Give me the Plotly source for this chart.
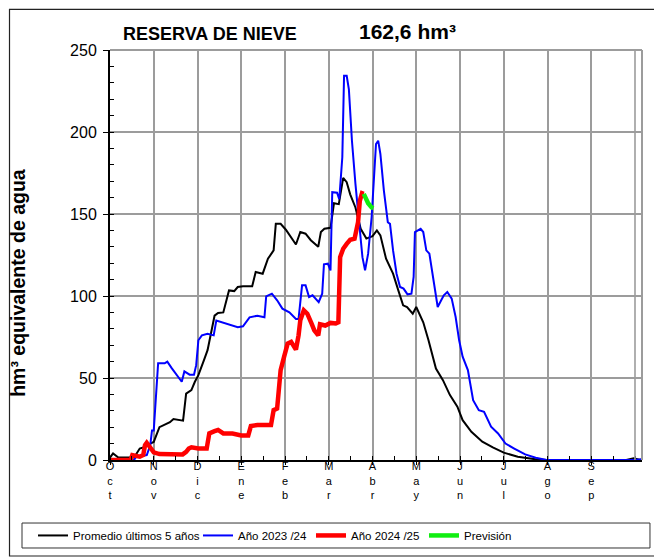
import plotly.graph_objects as go

# x positions in months since 1 October (0 = Oct, 1 = Nov, ...)
meses = ["O<br>c<br>t", "N<br>o<br>v", "D<br>i<br>c", "E<br>n<br>e", "F<br>e<br>b",
         "M<br>a<br>r", "A<br>b<br>r", "M<br>a<br>y", "J<br>u<br>n", "J<br>u<br>l",
         "A<br>g<br>o", "S<br>e<br>p"]

prom_x = [0.00, 0.07, 0.19, 0.55, 0.68, 0.80, 0.92, 1.00, 1.13, 1.21, 1.37, 1.45, 1.57, 1.67,
          1.74, 1.86, 1.94, 2.02, 2.15, 2.23, 2.39, 2.47, 2.59, 2.72, 2.84, 2.92, 3.04, 3.25,
          3.33, 3.49, 3.61, 3.74, 3.79, 3.90, 4.02, 4.14, 4.25, 4.35, 4.47, 4.59, 4.76, 4.82,
          4.90, 5.04, 5.12, 5.23, 5.33, 5.41, 5.49, 5.61, 5.73, 5.86, 5.94, 6.00, 6.10, 6.18,
          6.31, 6.47, 6.59, 6.70, 6.79, 6.92, 7.00, 7.16, 7.28, 7.45, 7.61, 7.77, 7.94, 8.06,
          8.26, 8.51, 8.75, 9.00, 9.32, 9.73, 9.98, 11.80, 11.97, 12.10, 12.18]
prom_y = [1.5, 4, 1.5, 1.5, 7, 8, 10, 11, 20, 21, 23, 25, 24.7, 24,
          40.5, 42.6, 47.7, 51.7, 61, 67, 88, 89.7, 90, 103.4, 103, 105.5, 106, 106,
          114.6, 113.6, 122.7, 127.8, 144, 144, 140.4, 136, 131.4, 139, 138, 134, 130, 139,
          141, 141.6, 156.6, 156, 172, 169.4, 162, 154, 141, 135, 136, 136.5, 140, 137,
          122.7, 113.6, 103.4, 94.3, 93.3, 89.2, 93.3, 84, 73, 55.8, 48.7, 39.6, 32.5, 24.3,
          17.2, 11.2, 7.7, 4.5, 2, 0.4, 0, 0, 1, 0.2, 0.2]

a2324_x = [0.00, 0.55, 0.60, 0.84, 0.92, 0.96, 1.00, 1.06, 1.10, 1.25, 1.31, 1.41, 1.53, 1.64,
           1.70, 1.82, 1.92, 1.97, 2.02, 2.10, 2.23, 2.37, 2.43, 2.55, 2.72, 2.92, 3.04, 3.19,
           3.37, 3.53, 3.57, 3.70, 3.82, 3.94, 4.10, 4.25, 4.31, 4.39, 4.47, 4.55, 4.63, 4.77,
           4.85, 4.89, 4.98, 5.04, 5.08, 5.19, 5.24, 5.31, 5.35, 5.41, 5.46, 5.53, 5.61, 5.69,
           5.77, 5.83, 5.90, 5.98, 6.02, 6.08, 6.13, 6.18, 6.26, 6.35, 6.40, 6.47, 6.55, 6.63,
           6.71, 6.80, 6.89, 6.94, 6.97, 7.04, 7.10, 7.16, 7.23, 7.30, 7.41, 7.49, 7.57, 7.63,
           7.71, 7.81, 7.90, 7.98, 8.06, 8.18, 8.30, 8.43, 8.55, 8.71, 8.87, 9.04, 9.24, 9.49,
           9.73, 9.98, 11.97, 12.18]
a2324_y = [0, 0, 2, 3, 9, 18, 18, 40.6, 59, 59, 60, 56, 51.7, 47.7,
           54, 52, 52, 57.8, 73, 76, 77, 76, 85, 84, 82.8, 81, 81.5, 87,
           88, 87, 99.8, 101.4, 97.4, 92.3, 90, 86, 86, 106.5, 106.5, 99.4, 100.4, 96.3,
           101.4, 119.3, 119.7, 115.6, 163.3, 163, 159, 184.6, 234.3, 234.3, 226, 194.7, 168.4, 148,
           123.7, 115.6, 125.8, 148, 168.4, 192.7, 194.7, 186.6, 164.3, 145, 144, 127.8, 113.6, 105.5,
           104.5, 101, 101.4, 111.6, 139, 140, 141, 139, 127.8, 125.8, 106.5, 93.3, 97.4, 100.4,
           102.4, 98.4, 87.2, 73, 63, 54.8, 36.5, 30.4, 29.4, 20.3, 16.2, 10, 7, 3.4,
           1.4, 0, 0, 0.5]

a2425_x = [0.00, 0.47, 0.51, 0.60, 0.68, 0.76, 0.80, 0.84, 0.92, 1.00, 1.13, 1.41, 1.66, 1.74,
           1.80, 1.86, 2.02, 2.21, 2.27, 2.39, 2.47, 2.59, 2.80, 3.00, 3.16, 3.22, 3.37, 3.68,
           3.74, 3.82, 3.86, 3.90, 3.98, 4.06, 4.14, 4.25, 4.31, 4.35, 4.43, 4.51, 4.61, 4.67,
           4.76, 4.80, 4.92, 5.04, 5.16, 5.22, 5.26, 5.33, 5.41, 5.49, 5.59, 5.64, 5.67, 5.71,
           5.76, 5.80]
a2425_y = [0, 0, 3, 2.5, 2, 3, 9, 10.5, 7, 4.7, 3.6, 3.4, 3.4, 5,
           7, 7.7, 7, 7, 16.2, 17.6, 18.3, 16.2, 16.2, 15, 15, 20.7, 21.3, 21.3,
           30.4, 31.4, 40.6, 54.8, 63, 71, 72, 67.3, 76, 85.2, 91.3, 89.2, 83, 79,
           76, 82.8, 82, 83.6, 83.2, 84, 123.7, 128.8, 131.8, 134.3, 135, 142, 145, 158,
           162.7, 162.3]

prev_x = [5.80, 5.90, 5.98, 6.02]
prev_y = [162.3, 156.6, 154, 153.5]

FONT = "Liberation Sans, Arial, sans-serif"
GRID = "#9c9c9c"

fig = go.Figure()
fig.add_trace(go.Scatter(x=prom_x, y=prom_y, mode="lines", name="Promedio últimos 5 años",
                         line=dict(color="#000000", width=2), legend="legend"))
fig.add_trace(go.Scatter(x=a2324_x, y=a2324_y, mode="lines", name="Año 2023 /24",
                         line=dict(color="#0000ff", width=2), legend="legend2"))
fig.add_trace(go.Scatter(x=a2425_x, y=a2425_y, mode="lines", name="Año 2024 /25",
                         line=dict(color="#ff0000", width=4.5), legend="legend3"))
fig.add_trace(go.Scatter(x=prev_x, y=prev_y, mode="lines", name="Previsión",
                         line=dict(color="#11ee11", width=4.5), legend="legend4"))

leg_common = dict(orientation="h", xanchor="left", y=-0.184, yanchor="middle",
                  font=dict(size=11.5, family=FONT), bgcolor="rgba(0,0,0,0)", itemwidth=30)

fig.update_layout(
    width=662, height=558,
    margin=dict(l=102, r=28, t=42, b=106, autoexpand=False),
    paper_bgcolor="white", plot_bgcolor="white",
    font=dict(family=FONT, color="black"),
    showlegend=True,
    legend=dict(x=-0.1447, **leg_common),
    legend2=dict(x=0.1654, **leg_common),
    legend3=dict(x=0.3778, **leg_common),
    legend4=dict(x=0.5902, **leg_common),
)

fig.update_xaxes(
    range=[0, 12.16], tickmode="array", tickvals=list(range(12)), ticktext=meses,
    tickfont=dict(size=11, family=FONT), ticks="outside", ticklen=3, tickcolor="black",
    ticklabelstandoff=-8,
    showgrid=True, gridcolor=GRID, gridwidth=1.6,
    showline=True, linecolor="black", linewidth=2, zeroline=False,
    minor=dict(dtick=0.5, tick0=0, ticks="inside", ticklen=4, tickcolor="black", showgrid=False),
)
fig.update_yaxes(
    range=[0, 250], dtick=50, tickfont=dict(size=16, family=FONT),
    ticks="outside", ticklen=5, tickcolor="black", ticklabelstandoff=3,
    showgrid=True, gridcolor=GRID, gridwidth=1.6,
    showline=True, linecolor="black", linewidth=2, zeroline=False,
    minor=dict(dtick=10, ticks="inside", ticklen=4, tickcolor="black", showgrid=False),
)

# month gridline at the end of September and plot frame top/right
fig.add_shape(type="line", xref="x", yref="paper", x0=12, x1=12, y0=0, y1=1,
              line=dict(color=GRID, width=1.6))
fig.add_shape(type="line", xref="paper", yref="paper", x0=1, x1=1, y0=0, y1=1,
              line=dict(color=GRID, width=2))
fig.add_shape(type="line", xref="paper", yref="paper", x0=0, x1=1, y0=1, y1=1,
              line=dict(color=GRID, width=2))

# legend box
fig.add_shape(type="rect", xref="paper", yref="paper", x0=-0.1654, x1=1.015,
              y0=-0.2146, y1=-0.1537, line=dict(color="#333333", width=1))
# outer frame (top, left, bottom)
fig.add_shape(type="path", xref="paper", yref="paper",
              path="M 1.06,1.099 L -0.1889,1.099 L -0.1889,-0.2341 L 1.06,-0.2341",
              line=dict(color="#222222", width=1.2))

fig.add_annotation(text="<b>RESERVA DE NIEVE</b>", xref="paper", yref="paper",
                   x=0.0207, xanchor="left", y=1.039, yanchor="middle", showarrow=False,
                   font=dict(size=18, family=FONT))
fig.add_annotation(text="<b>162,6 hm³</b>", xref="paper", yref="paper",
                   x=0.464, xanchor="left", y=1.046, yanchor="middle", showarrow=False,
                   font=dict(size=21, family=FONT))
fig.add_annotation(text="<b>hm³ equivalente de agua</b>", xref="paper", yref="paper",
                   x=-0.173, xanchor="center", y=0.432, yanchor="middle", showarrow=False,
                   textangle=-90, font=dict(size=19.5, family=FONT))

fig.write_html("out.html")
